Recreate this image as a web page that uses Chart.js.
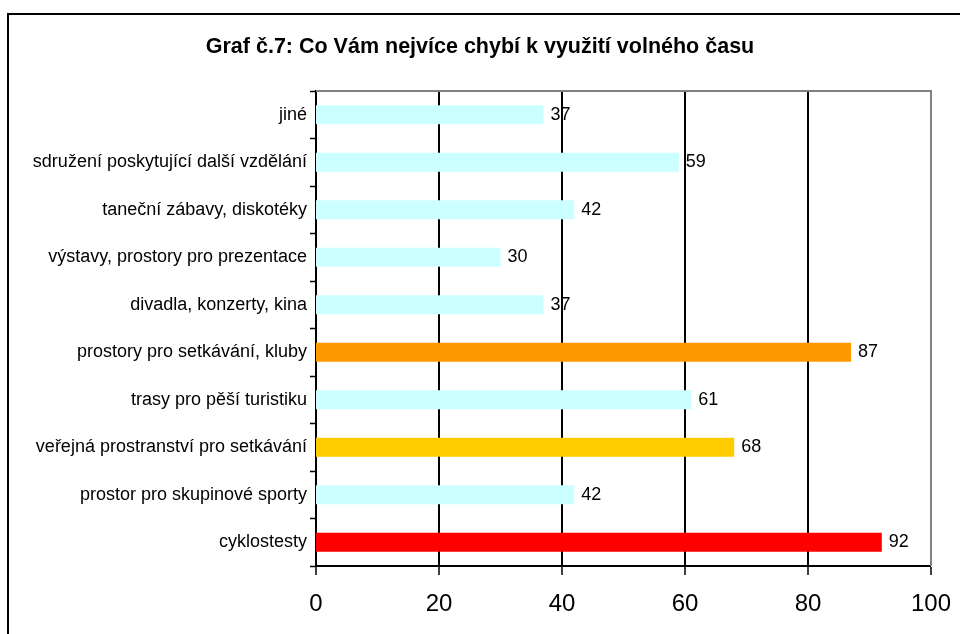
<!DOCTYPE html>
<html>
<head>
<meta charset="utf-8">
<script src="https://cdn.jsdelivr.net/npm/chart.js@4"></script>
<style>
  html, body { margin: 0; padding: 0; background: #fff; }
  #wrap { width: 960px; height: 634px; position: relative; }
</style>
</head>
<body>
<div id="wrap"><canvas id="chart" width="960" height="634"></canvas></div>
<script>
// data (top to bottom)
const categories = [
    'jiné',
    'sdružení poskytující další vzdělání',
    'taneční zábavy, diskotéky',
    'výstavy, prostory pro prezentace',
    'divadla, konzerty, kina',
    'prostory pro setkávání, kluby',
    'trasy pro pěší turistiku',
    'veřejná prostranství pro setkávání',
    'prostor pro skupinové sporty',
    'cyklostesty'
];
const values = [37, 59, 42, 30, 37, 87, 61, 68, 42, 92];
const barColors = ['#CCFFFF', '#CCFFFF', '#CCFFFF', '#CCFFFF', '#CCFFFF', '#FF9900', '#CCFFFF', '#FFCC00', '#CCFFFF', '#FF0000'];
const xTicks = [0, 20, 40, 60, 80, 100];

const FONT = "'Liberation Sans', Arial, sans-serif";

// outer frame + grey top/right plot border
const framePlugin = {
    id: 'frame',
    beforeDraw(chart) {
        const ctx = chart.ctx;
        ctx.save();
        ctx.fillStyle = '#fff';
        ctx.fillRect(0, 0, chart.width, chart.height);
        ctx.strokeStyle = '#000';
        ctx.lineWidth = 2;
        ctx.strokeRect(8, 14, chart.width + 20, chart.height + 20);
        ctx.restore();
    },
    afterDraw(chart) {
        const a = chart.chartArea;
        const ctx = chart.ctx;
        ctx.save();
        ctx.strokeStyle = '#808080';
        ctx.lineWidth = 2;
        ctx.beginPath();
        ctx.moveTo(a.left, a.top);
        ctx.lineTo(a.right, a.top);
        ctx.lineTo(a.right, a.bottom);
        ctx.stroke();
        ctx.restore();
    }
};

// value labels at bar ends
const valueLabels = {
    id: 'valueLabels',
    afterDatasetsDraw(chart) {
        const ctx = chart.ctx;
        const meta = chart.getDatasetMeta(0);
        ctx.save();
        ctx.font = '18px ' + FONT;
        ctx.fillStyle = '#000';
        ctx.textAlign = 'left';
        ctx.textBaseline = 'middle';
        meta.data.forEach((bar, i) => {
            ctx.fillText(String(values[i]), bar.x + 7, bar.y);
        });
        ctx.restore();
    }
};

const ctx = document.getElementById('chart').getContext('2d');
new Chart(ctx, {
    type: 'bar',
    data: {
        labels: categories,
        datasets: [{
            data: values,
            backgroundColor: barColors,
            borderWidth: 0,
            barPercentage: 0.8,
            categoryPercentage: 0.5
        }]
    },
    options: {
        indexAxis: 'y',
        responsive: false,
        animation: false,
        layout: { padding: { left: 29, right: 29, top: 0, bottom: 0 } },
        plugins: {
            legend: { display: false },
            tooltip: { enabled: false },
            title: {
                display: true,
                text: 'Graf č.7: Co Vám nejvíce chybí k využití volného času',
                color: '#000',
                font: { family: FONT, size: 21.5, weight: 'bold', lineHeight: 1.2 },
                padding: { top: 34.1, bottom: 31.1 }
            }
        },
        scales: {
            x: {
                min: 0,
                max: 100,
                afterBuildTicks(scale) {
                    scale.ticks = xTicks.map(v => ({ value: v }));
                },
                afterFit(scale) {
                    scale.height = 68;
                    scale.paddingLeft = 0;
                    scale.paddingRight = 0;
                },
                border: { display: true, color: '#000', width: 2 },
                grid: {
                    color: c => (c.tick && c.tick.value === 100) ? '#808080' : '#000',
                    lineWidth: c => (c.tick && c.tick.value === 0) ? 0 : 2,
                    tickColor: '#000',
                    tickLength: 9,
                    tickWidth: 1.5
                },
                ticks: {
                    color: '#000',
                    padding: 15,
                    font: { family: FONT, size: 24 },
                    maxRotation: 0
                }
            },
            y: {
                afterFit(scale) { scale.width = 287; },
                border: { display: true, color: '#000', width: 2 },
                grid: {
                    drawOnChartArea: false,
                    offset: true,
                    tickColor: '#000',
                    tickLength: 6,
                    tickWidth: 1.5
                },
                ticks: {
                    color: '#000',
                    padding: 3,
                    font: { family: FONT, size: 18 }
                }
            }
        }
    },
    plugins: [framePlugin, valueLabels]
});
</script>
</body>
</html>
